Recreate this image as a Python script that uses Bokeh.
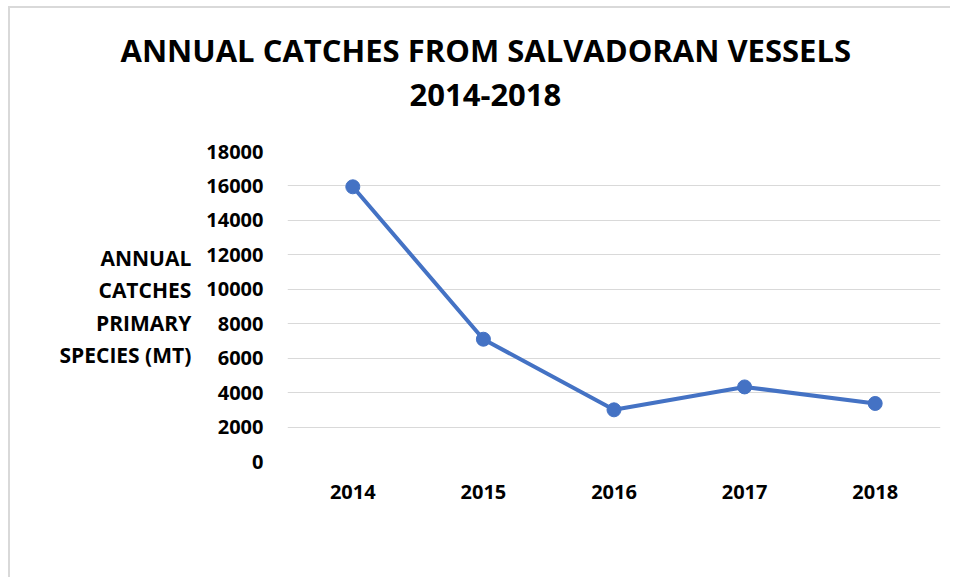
from bokeh.plotting import figure
from bokeh.models import Range1d, Title, Legend, LegendItem, FixedTicker
from bokeh.embed import file_html
from bokeh.resources import INLINE

years = ["2014", "2015", "2016", "2017", "2018"]
total = [15950, 7100, 3000, 4330, 3370]
y_ticks = [0, 2000, 4000, 6000, 8000, 10000, 12000, 14000, 16000, 18000]
title_lines = ["ANNUAL CATCHES FROM SALVADORAN VESSELS", "2014-2018"]
ylabel_lines = ["ANNUAL", "CATCHES", "PRIMARY", "SPECIES (MT)"]
series_name = "TOTAL"

FONT = "Open Sans"
BLUE = "#4472C4"

p = figure(x_range=years, y_range=Range1d(0, 18000),
           frame_width=653, frame_height=310,
           min_border_left=277, min_border_right=10,
           min_border_top=143, min_border_bottom=0,
           output_backend="svg", toolbar_location=None,
           background_fill_color="white", border_fill_color="white")
p.styles = {"border-top": "2px solid #d9d9d9", "border-left": "2px solid #d9d9d9",
            "margin-left": "8px", "margin-top": "6px"}
p.outline_line_color = None

line = p.line(years, total, line_color=BLUE, line_width=4)
pts = p.scatter(years, total, size=14, fill_color=BLUE, line_color=BLUE)

p.yaxis.ticker = FixedTicker(ticks=y_ticks)
for ax in (p.xaxis[0], p.yaxis[0]):
    ax.axis_line_color = None
    ax.major_tick_line_color = None
    ax.minor_tick_line_color = None
    ax.major_label_text_font = FONT
    ax.major_label_text_font_style = "bold"
    ax.major_label_text_font_size = "20px"
    ax.major_label_text_color = "#000000"
p.xaxis.major_label_standoff = 17
p.yaxis.major_label_standoff = 18

# horizontal, multi-line y axis title
p.yaxis.axis_label = "\n".join(ylabel_lines)
p.yaxis.axis_label_orientation = "horizontal"
p.yaxis.axis_label_text_align = "center"
p.yaxis.axis_label_text_font = FONT
p.yaxis.axis_label_text_font_style = "bold"
p.yaxis.axis_label_text_font_size = "21px"
p.yaxis.axis_label_text_line_height = 1.15
p.yaxis.axis_label_text_color = "#000000"
p.yaxis.axis_label_standoff = 12

p.xgrid.grid_line_color = None
p.ygrid.grid_line_color = "#d9d9d9"
p.ygrid.grid_line_width = 1

# spacer between frame and the title block (first added sits closest to the frame)
p.add_layout(Title(text=" ", standoff=37, text_font_size="1px"), "above")
p.add_layout(Title(text=title_lines[1], align="left", offset=122, standoff=11,
                   text_font=FONT, text_font_style="bold", text_font_size="31px",
                   text_color="#000000"), "above")
p.add_layout(Title(text=title_lines[0], align="left", offset=-167, standoff=11,
                   text_font=FONT, text_font_style="bold", text_font_size="31px",
                   text_color="#000000"), "above")

legend = Legend(items=[LegendItem(label=series_name, renderers=[line, pts])],
                location=(145, 20), orientation="horizontal",
                glyph_width=54, glyph_height=20, label_height=20, label_standoff=4,
                padding=0, margin=20, border_line_color=None,
                background_fill_alpha=0,
                label_text_font=FONT, label_text_font_style="bold",
                label_text_font_size="20px", label_text_color="#000000")
p.add_layout(legend, "below")

open("out.html", "w").write(file_html(p, INLINE))
